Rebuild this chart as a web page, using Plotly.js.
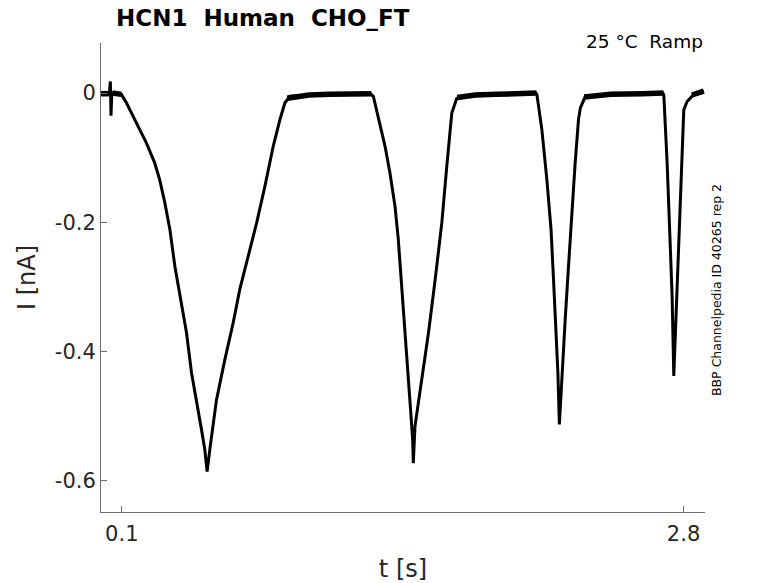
<!DOCTYPE html>
<html>
<head>
<meta charset="utf-8">
<script src="https://cdn.plot.ly/plotly-3.0.1.min.js"></script>
<style>html,body{margin:0;padding:0;background:#fff;}#chart{width:778px;height:583px;}</style>
</head>
<body>
<div id="chart"></div>
<script>
// Time (s) and current (nA)
const timeS = [
  0, 0.02, 0.040, 0.045, 0.048, 0.052, 0.07, 0.085, 0.098,
  0.122, 0.170, 0.218, 0.258, 0.282, 0.307, 0.331, 0.355, 0.379, 0.411, 0.435, 0.459, 0.483, 0.499, 0.510,
  0.523, 0.555, 0.595, 0.635, 0.667, 0.707, 0.748, 0.788, 0.828, 0.860, 0.884, 0.908,
  1.0, 1.1, 1.2, 1.29,
  1.309, 1.333, 1.365, 1.389, 1.413, 1.429, 1.446, 1.461, 1.477, 1.489, 1.498, 1.501,
  1.509, 1.542, 1.574, 1.606, 1.638, 1.662, 1.686, 1.710,
  1.8, 1.9, 2.0, 2.09,
  2.095, 2.119, 2.143, 2.163, 2.175, 2.188, 2.196, 2.203,
  2.216, 2.231, 2.247, 2.263, 2.279, 2.295, 2.304, 2.328,
  2.45, 2.6, 2.70,
  2.705, 2.721, 2.733, 2.745, 2.753,
  2.764, 2.777, 2.788, 2.801, 2.817, 2.849, 2.897
];
const currentNA = [
  -0.001, 0.001, -0.002, 0.018, -0.035, 0.000, 0.001, -0.001, -0.002,
  -0.015, -0.046, -0.077, -0.108, -0.134, -0.170, -0.211, -0.268, -0.315, -0.371, -0.433, -0.475, -0.521, -0.552, -0.586,
  -0.552, -0.475, -0.413, -0.356, -0.304, -0.253, -0.201, -0.144, -0.082, -0.041, -0.015, -0.005,
  -0.003, -0.002, -0.001, 0.000,
  -0.005, -0.036, -0.082, -0.124, -0.175, -0.227, -0.299, -0.371, -0.433, -0.495, -0.537, -0.573,
  -0.516, -0.444, -0.371, -0.289, -0.201, -0.113, -0.031, -0.008,
  -0.003, -0.002, -0.001, 0.000,
  -0.002, -0.057, -0.134, -0.211, -0.289, -0.366, -0.433, -0.513,
  -0.433, -0.351, -0.268, -0.186, -0.108, -0.041, -0.023, -0.005,
  -0.002, -0.001, 0.000,
  -0.003, -0.108, -0.211, -0.315, -0.438,
  -0.340, -0.227, -0.124, -0.026, -0.013, -0.002, 0.003
];
// Holding plateaus, where the recorded noise makes the trace look thicker
const plateauT = [0, 0.040, null, 0.055, 0.098, null, 0.895, 1.0, 1.1, 1.2, 1.30, null,
  1.712, 1.8, 1.9, 2.0, 2.093, null, 2.322, 2.45, 2.6, 2.703, null, 2.840, 2.897];
const plateauI = [-0.001, -0.001, null, 0.000, -0.002, null, -0.008, -0.003, -0.002, -0.001, -0.001, null,
  -0.007, -0.003, -0.002, -0.001, 0.000, null, -0.006, -0.002, -0.001, 0.000, null, -0.003, 0.003];

const xTickVals = [0.1, 2.8];
const xTickText = ['0.1', '2.8'];
const yTickVals = [0, -0.2, -0.4, -0.6];
const yTickText = ['0', '-0.2', '-0.4', '-0.6'];

const FONT = 'DejaVu Sans, Arial, sans-serif';
const AX = '#6e6e6e';
const TXT = '#262626';

const trace = {
  x: timeS, y: currentNA, type: 'scatter', mode: 'lines',
  line: {color: '#000000', width: 3},
  hoverinfo: 'skip'
};
const plateau = {
  x: plateauT, y: plateauI, type: 'scatter', mode: 'lines',
  line: {color: '#000000', width: 5.5}, connectgaps: false,
  hoverinfo: 'skip'
};

const layout = {
  width: 778, height: 583,
  margin: {l: 101, r: 73, t: 43, b: 71, pad: 0},
  paper_bgcolor: '#ffffff', plot_bgcolor: '#ffffff',
  showlegend: false,
  font: {family: FONT, color: TXT},
  xaxis: {
    range: [0, 2.903], showgrid: false, zeroline: false,
    showline: true, linecolor: AX, linewidth: 1, mirror: false,
    ticks: 'inside', ticklen: 6, tickcolor: AX, tickwidth: 1,
    tickvals: xTickVals, ticktext: xTickText, ticklabelstandoff: 3,
    tickfont: {family: FONT, size: 21, color: TXT},
    title: {text: 't [s]', font: {family: FONT, size: 24, color: TXT}, standoff: 14}
  },
  yaxis: {
    range: [-0.6485, 0.0775], showgrid: false, zeroline: false,
    showline: true, linecolor: AX, linewidth: 1, mirror: false,
    ticks: 'inside', ticklen: 6, tickcolor: AX, tickwidth: 1,
    tickvals: yTickVals, ticktext: yTickText,
    tickfont: {family: FONT, size: 21, color: TXT},
    title: {text: 'I [nA]', font: {family: FONT, size: 24, color: TXT}, standoff: 12}
  },
  annotations: [
    {text: '<b>HCN1\u00a0\u00a0Human\u00a0\u00a0CHO_FT</b>', xref: 'paper', yref: 'paper',
     x: 0.0207, y: 1.053, xanchor: 'left', yanchor: 'middle', showarrow: false,
     font: {family: FONT, size: 23, color: '#000000'}},
    {text: '25 °C\u00a0\u00a0Ramp', xref: 'paper', yref: 'paper',
     x: 0.9995, y: 1.004, xanchor: 'right', yanchor: 'middle', showarrow: false,
     font: {family: FONT, size: 18.5, color: '#000000'}},
    {text: 'BBP Channelpedia ID 40265 rep 2', xref: 'paper', yref: 'paper',
     x: 1.018, y: 0.473, xanchor: 'center', yanchor: 'middle', showarrow: false,
     textangle: -90, font: {family: FONT, size: 12.5, color: '#000000'}}
  ]
};

Plotly.newPlot('chart', [trace, plateau], layout, {displayModeBar: false, staticPlot: true});
</script>
</body>
</html>
